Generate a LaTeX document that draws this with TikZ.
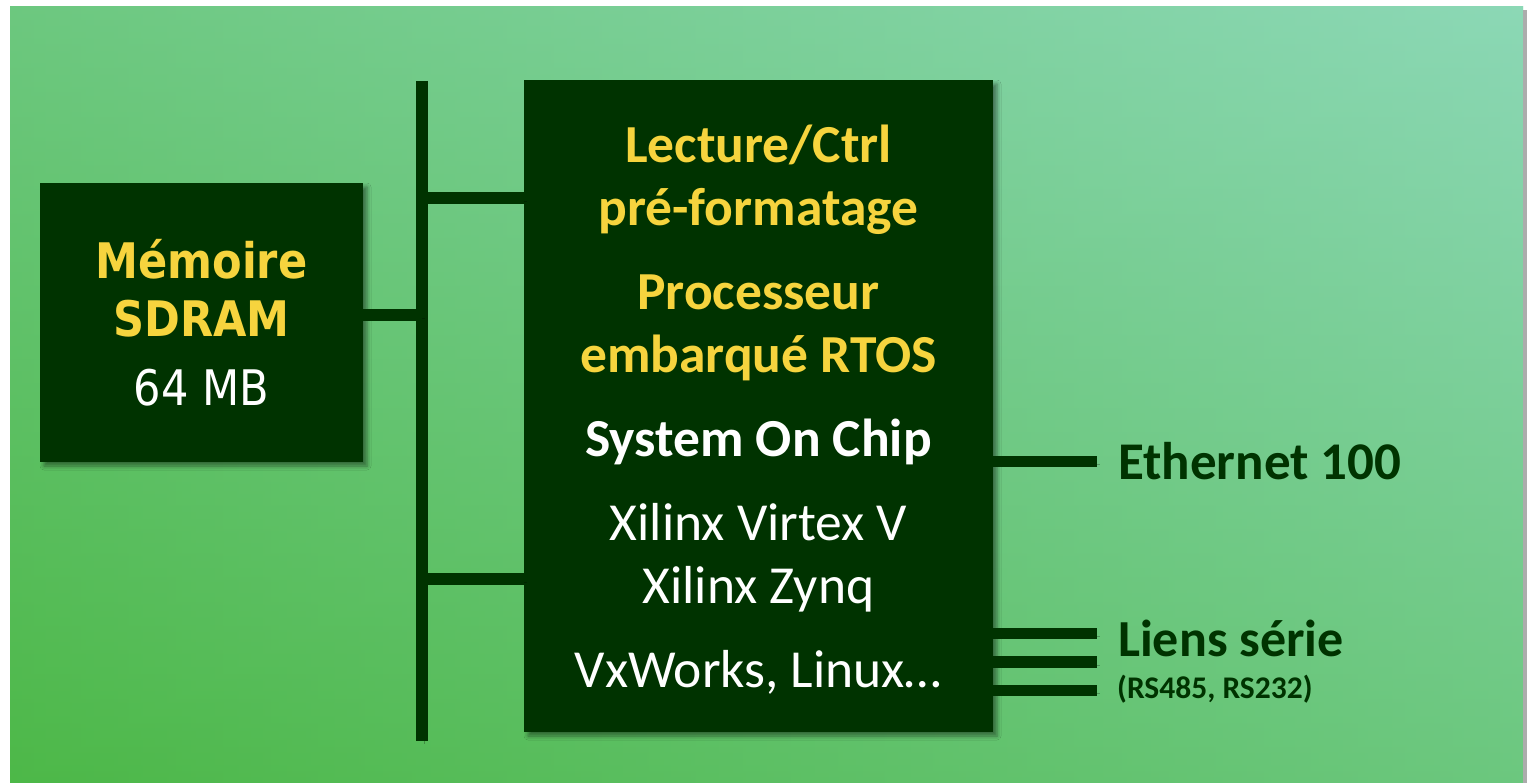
\documentclass[tikz,border=0pt]{standalone}
\usepackage{fontspec}
\setmainfont{Carlito}
\newfontfamily\verdanafont[FakeStretch=0.88]{DejaVu Sans}
\usetikzlibrary{calc,shadows.blur}
\definecolor{BoxDark}{RGB}{0,51,0}
\definecolor{TextYellow}{RGB}{246,212,62}
\definecolor{BackLight}{RGB}{140,216,182}
\definecolor{BackDeep}{RGB}{77,184,72}
\newcommand{\yeltext}[1]{{\bfseries\color{TextYellow}#1}}

\begin{document}
\begin{tikzpicture}[x=1pt, y=-1pt,
        darkbox/.style={fill=BoxDark, text=white, align=center, inner sep=0pt,
                        blur shadow={shadow xshift=4pt, shadow yshift=-4pt,
                                     shadow blur radius=4pt, shadow opacity=45}},
        bus/.style={draw=BoxDark, line width=12pt,
                    preaction={draw=black, draw opacity=.25,
                               transform canvas={shift={(3pt,-3pt)}}}},
        portlabel/.style={anchor=base west, inner sep=0pt, text=BoxDark,
                          font=\bfseries}
]
    \useasboundingbox (0,0) rectangle (1527,783);
    \fill[white] (0,0) rectangle (1527,783);
    % diagonal background: mean of a horizontal and a vertical shading
    \shade[left color=BackDeep, right color=BackLight] (10,7) rectangle (1523,783);
    \shade[top color=BackLight, bottom color=BackDeep, opacity=.5] (10,7) rectangle (1523,783);
    \fill[gray!65] (1523,10) rectangle (1527,783);

    \node[darkbox, minimum width=323pt, minimum height=279pt,
          font=\verdanafont\fontsize{49}{58}\selectfont] (mem) at (201.5,322.5)
        {\yeltext{Mémoire}\\ \yeltext{SDRAM}\\[11pt] 64 MB};
    \node[darkbox, minimum width=469pt, minimum height=652pt] (soc) at (758.5,406) {};
    \node[text=white, align=center, inner sep=0pt, font=\fontsize{53.5}{63}\selectfont]
        (soctext) at ([yshift=-3.5pt]soc.center)
        {\yeltext{Lecture/Ctrl}\\ \yeltext{pré-formatage}\\[21pt]
         \yeltext{Processeur}\\ \yeltext{embarqué RTOS}\\[21pt]
         \textbf{System On Chip}\\[21pt]
         Xilinx Virtex V\\ Xilinx Zynq\\[21pt]
         VxWorks, Linux…};

    \node[portlabel, font=\bfseries\fontsize{53}{60}\selectfont] (eth) at (1118,480) {Ethernet 100};
    \node[portlabel, font=\bfseries\fontsize{52}{60}\selectfont] (serial) at (1118,656) {Liens série};
    \node[portlabel, font=\bfseries\fontsize{31.5}{36}\selectfont] (serialsub) at (1117,698) {(RS485, RS232)};

    % bus and links
    \coordinate (bustop) at (421.5,81);
    \coordinate (busbot) at (421.5,741);
    \coordinate (memlink) at ([yshift=7pt]mem.east);
    \coordinate (soclinka) at ([yshift=-118pt]soc.north west);
    \coordinate (soclinkb) at ([yshift=-499pt]soc.north west);
    \coordinate (serend) at (1097,662);
    \draw[bus] (bustop) -- (busbot);
    \draw[bus] (memlink) -- (memlink -| bustop);
    \draw[bus] (soclinka -| bustop) -- (soclinka);
    \draw[bus] (soclinkb -| bustop) -- (soclinkb);
    \draw[bus, line width=11pt] (eth.west -| soc.east) -- ([xshift=-21pt]eth.west);
    \foreach \dy in {28.5,0,-28.5}
        \draw[bus, line width=11.5pt] ($(soc.east |- serend)+(0,\dy)$) -- ($(serend)+(0,\dy)$);
\end{tikzpicture}
\end{document}
